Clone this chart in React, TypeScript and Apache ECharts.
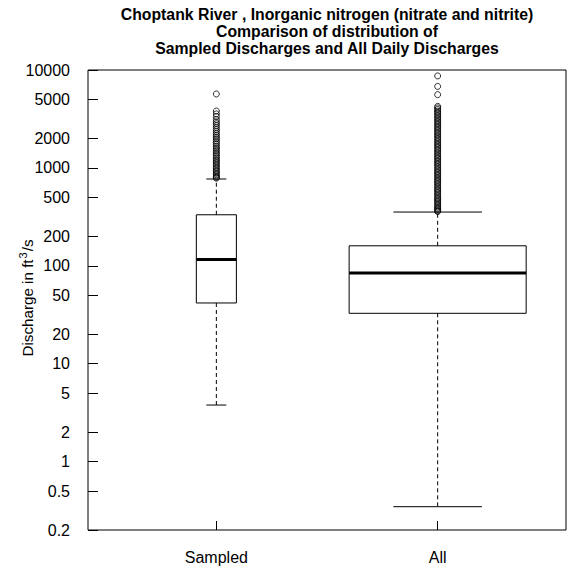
import React, { useEffect, useRef } from 'react';
import * as echarts from 'echarts';

const titleLines = [
  'Choptank River , Inorganic nitrogen (nitrate and nitrite)',
  'Comparison of distribution of',
  'Sampled Discharges and All Daily Discharges',
];
const categories = ['Sampled', 'All'];
const lowerWhisker = [3.78, 0.346];
const lowerQuartile = [41.7, 32.7];
const medians = [116, 84.4];
const upperQuartile = [332, 160];
const upperWhisker = [770, 354];
// relative box widths (varwidth boxplot, proportional to sqrt(n))
const boxWidths = [0.181, 0.8];

const sampledOutliers = [
  5690, 3810, 3560, 3350, 3120, 2950, 2830, 2700, 2580, 2460, 2350, 2240, 2150, 2060,
  1980, 1890, 1810, 1740, 1660, 1600, 1540, 1480, 1420, 1370, 1310, 1260, 1210, 1170,
  1130, 1090, 1050, 1010, 975, 940, 910, 880, 850, 825, 800, 785,
];
const allOutliers = [
  8700, 6800, 5600, 4250, 4100, 3950, 3800, 3680, 3550, 3420, 3300, 3180, 3070, 2960,
  2860, 2760, 2660, 2570, 2480, 2390, 2300, 2220, 2140, 2060, 1990, 1920, 1850, 1780,
  1720, 1660, 1600, 1540, 1490, 1430, 1380, 1330, 1280, 1240, 1190, 1150, 1110, 1070,
  1030, 990, 955, 920, 890, 860, 830, 800, 770, 745, 720, 695, 670, 645, 620, 600, 580,
  560, 540, 520, 500, 485, 470, 455, 440, 425, 410, 398, 386, 375, 365, 358,
];
const yTickValues = [0.2, 0.5, 1, 2, 5, 10, 20, 50, 100, 200, 500, 1000, 2000, 5000, 10000];
const yAxisNameParts = ['Discharge in ft', '3', '/s'];

const FONT = '"Liberation Sans", Arial, Helvetica, sans-serif';

export default function App() {
  const ref = useRef<HTMLDivElement>(null);
  useEffect(() => {
    if (!ref.current) return;
    const chart = echarts.init(ref.current, undefined, { renderer: 'svg' });
    const lg = (v: number) => Math.log10(v);
    const boxData = categories.map((_, i) => [
      i + 1,
      lg(lowerWhisker[i]),
      lg(lowerQuartile[i]),
      lg(medians[i]),
      lg(upperQuartile[i]),
      lg(upperWhisker[i]),
      boxWidths[i],
    ]);
    const outlierData = [
      ...sampledOutliers.map((v) => [1, lg(v)]),
      ...allOutliers.map((v) => [2, lg(v)]),
    ];
    const yTicks = yTickValues.map(lg);
    const option: any = {
      animation: false,
      backgroundColor: '#fff',
      title: {
        text: titleLines.join('\n'),
        left: 327,
        top: 6,
        padding: 0,
        textAlign: 'center',
        textStyle: {
          fontSize: 15.8,
          fontWeight: 'bold',
          color: '#000',
          lineHeight: 17,
          fontFamily: FONT,
        },
      },
      grid: {
        left: 88,
        right: 3,
        top: 70,
        bottom: 41,
        containLabel: false,
        outerBoundsMode: 'none',
        show: true,
        borderColor: '#000',
        borderWidth: 1,
        backgroundColor: 'transparent',
      },
      xAxis: {
        type: 'value',
        min: 0.42,
        max: 2.58,
        axisLine: { show: false, onZero: false },
        splitLine: { show: false },
        axisTick: {
          show: true,
          inside: true,
          length: 9,
          customValues: [1, 2],
          lineStyle: { color: '#000' },
        },
        axisLabel: {
          customValues: [1, 2],
          formatter: (v: number) => categories[Math.round(v) - 1],
          color: '#000',
          fontSize: 16,
          fontFamily: FONT,
          margin: 19,
        },
      },
      yAxis: {
        type: 'value',
        min: lg(0.2),
        max: 4,
        axisLine: { show: false, onZero: false },
        splitLine: { show: false },
        axisTick: {
          show: true,
          inside: true,
          length: 10,
          customValues: yTicks,
          lineStyle: { color: '#000' },
        },
        axisLabel: {
          customValues: yTicks,
          formatter: (v: number) => {
            const t = yTickValues.find((tv) => Math.abs(lg(tv) - v) < 1e-6);
            return t === undefined ? '' : String(t);
          },
          color: '#000',
          fontSize: 16,
          fontFamily: FONT,
          margin: 18,
        },
        name: `{n|${yAxisNameParts[0]}}{s|${yAxisNameParts[1]}}{n|${yAxisNameParts[2]}}`,
        nameLocation: 'middle',
        nameGap: 51,
        nameMoveOverlap: false,
        nameRotate: 90,
        nameTextStyle: {
          color: '#000',
          fontFamily: FONT,
          padding: [0, 0, 0, 4],
          rich: {
            n: { fontSize: 15.2, lineHeight: 20, color: '#000', fontFamily: FONT },
            s: { fontSize: 11, verticalAlign: 'top', color: '#000', fontFamily: FONT, padding: [0, 1, 0, 1] },
          },
        },
      },
      series: [
        {
          type: 'custom',
          silent: true,
          data: boxData,
          encode: { x: 0, y: [1, 2, 3, 4, 5] },
          renderItem: (params: any, api: any) => {
            const x = api.value(0);
            const w = api.value(6);
            const yLo = api.coord([x, api.value(1)])[1];
            const yQ1 = api.coord([x, api.value(2)])[1];
            const yMd = api.coord([x, api.value(3)])[1];
            const yQ3 = api.coord([x, api.value(4)])[1];
            const yHi = api.coord([x, api.value(5)])[1];
            const cx = api.coord([x, 0])[0];
            const left = api.coord([x - w / 2, 0])[0];
            const right = api.coord([x + w / 2, 0])[0];
            const capL = api.coord([x - w / 4, 0])[0];
            const capR = api.coord([x + w / 4, 0])[0];
            const solid = { stroke: '#000', lineWidth: 1 };
            const dashed = { stroke: '#000', lineWidth: 1, lineDash: [4, 3] };
            return {
              type: 'group',
              children: [
                { type: 'line', shape: { x1: cx, y1: yQ1, x2: cx, y2: yLo }, style: dashed },
                { type: 'line', shape: { x1: cx, y1: yQ3, x2: cx, y2: yHi }, style: dashed },
                { type: 'line', shape: { x1: capL, y1: yLo, x2: capR, y2: yLo }, style: solid },
                { type: 'line', shape: { x1: capL, y1: yHi, x2: capR, y2: yHi }, style: solid },
                {
                  type: 'rect',
                  shape: { x: left, y: yQ3, width: right - left, height: yQ1 - yQ3 },
                  style: { stroke: '#000', lineWidth: 1, fill: 'rgba(0,0,0,0)' },
                },
                {
                  type: 'line',
                  shape: { x1: left, y1: yMd, x2: right, y2: yMd },
                  style: { stroke: '#000', lineWidth: 3 },
                },
              ],
            };
          },
        },
        {
          type: 'scatter',
          silent: true,
          data: outlierData,
          symbol: 'circle',
          symbolSize: 6,
          itemStyle: { color: 'rgba(0,0,0,0)', borderColor: '#000', borderWidth: 1 },
        },
      ],
    };
    chart.setOption(option);
    return () => chart.dispose();
  }, []);
  return (
    <div
      ref={ref}
      style={{ position: 'fixed', left: 0, top: 0, width: 569, height: 571, background: '#fff' }}
    />
  );
}
